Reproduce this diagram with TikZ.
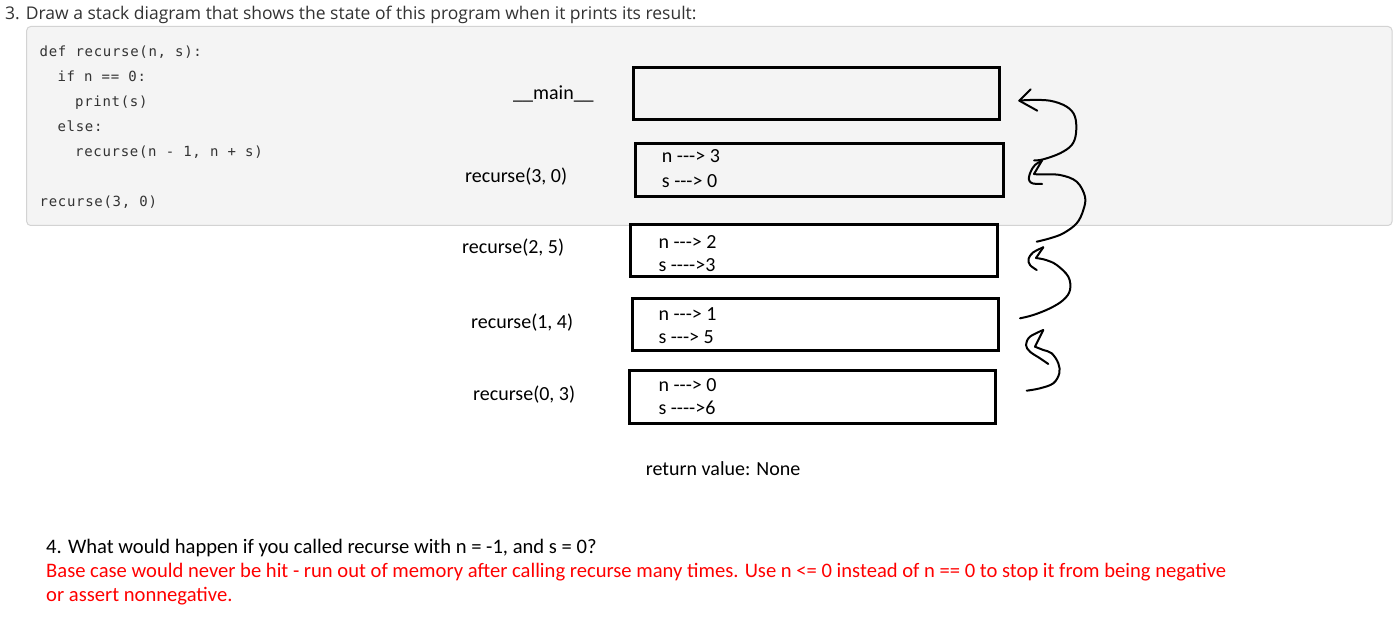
\documentclass[tikz,border=0pt]{standalone}
\usepackage{fontspec}
\newfontfamily\calfont{Carlito}
\newfontfamily\headfont{Open Sans}
\newfontfamily\codefont[LetterSpace=5]{DejaVu Sans Mono}
\definecolor{codebg}{HTML}{F4F4F4}
\definecolor{codeborder}{HTML}{D3D3D3}
\definecolor{darktext}{HTML}{333333}
\definecolor{answerred}{HTML}{FF0000}
\tikzset{
  txt/.style={anchor=base west, inner sep=0pt, font=\calfont\fontsize{20}{24}\selectfont, text=black},
  qtxt/.style={txt, font=\calfont\fontsize{20.6}{24}\selectfont},
  headtxt/.style={anchor=base west, inner sep=0pt, font=\headfont\fontsize{17.5}{21}\selectfont, text=darktext},
  codetxt/.style={anchor=base west, inner sep=0pt, font=\codefont\fontsize{14}{17}\selectfont, text=darktext},
  frame/.style={draw=black, line width=3pt, inner sep=0pt, minimum width=366pt, minimum height=52pt},
  hand/.style={draw=black, line width=2pt, line cap=round, line join=round},
}
\begin{document}
\begin{tikzpicture}[x=1pt, y=-1pt]
\useasboundingbox (0,0) rectangle (1399,620);
\fill[white] (0,0) rectangle (1399,620);

% heading
\node[headtxt] (head) at (5,20) {3. Draw a stack diagram that shows the state of this program when it prints its result:};

% code box
\draw[codeborder, fill=codebg, rounded corners=4pt, line width=1pt] (26.7,26.5) rectangle (1392,225.5);
\node[codetxt] (c1) at (39.5,57) {def recurse(n, s):};
\node[codetxt] (c2) at (57.3,82) {if n == 0:};
\node[codetxt] (c3) at (75,107) {print(s)};
\node[codetxt] (c4) at (57.3,132) {else:};
\node[codetxt] (c5) at (75,157) {recurse(n - 1, n + s)};
\node[codetxt] (c6) at (39.5,207) {recurse(3, 0)};

% frame labels
\node[txt] (lmain) at (513,100) {\_\_main\_\_};
\node[txt] (l1) at (465,183) {recurse(3, 0)};
\node[txt] (l2) at (462,253.5) {recurse(2, 5)};
\node[txt] (l3) at (471,328.5) {recurse(1, 4)};
\node[txt] (l4) at (473,400) {recurse(0, 3)};

% frames
\node[frame] (fmain) at (816.5,93.5) {};
\node[frame, minimum width=368pt, minimum height=53pt] (f1) at (819.5,170) {};
\node[frame, minimum width=367pt] (f2) at (814,250.5) {};
\node[frame] (f3) at (815.5,324.5) {};
\node[frame, minimum height=53pt] (f4) at (812.5,397) {};

% frame contents
\node[txt] (n1) at (661.7,162.7) {n ---> 3};
\node[txt] (s1) at (661.7,187.3) {s ---> 0};
\node[txt] (n2) at (658.3,248.3) {n ---> 2};
\node[txt] (s2) at (658.3,271.7) {s ---->3};
\node[txt] (n3) at (658.3,320) {n ---> 1};
\node[txt] (s3) at (658.3,343.3) {s ---> 5};
\node[txt] (n4) at (658.3,391) {n ---> 0};
\node[txt] (s4) at (658.3,414.3) {s ---->6};

\node[txt] (ret) at (645.7,475) {return value: None};

% hand-drawn return arrows
\draw[hand] (1030.7,89.3) -- (1019.3,100.7) -- (1037.3,110.7);
\draw[hand] plot[smooth, tension=0.6] coordinates {(1019.3,100.7) (1030,100) (1050,100.7) (1066.7,106.7) (1075,116.7) (1076,133.3) (1071.7,145) (1060,153.3) (1043.3,159.3) (1034,160.5)};

\draw[hand] plot[smooth, tension=0.6] coordinates {(1042,160.5) (1035,165) (1031,171) (1029,177) (1029.5,181) (1033,183.5) (1042,184)};
\draw[hand] (1042,160.5) -- (1034,174);
\draw[hand] plot[smooth, tension=0.6] coordinates {(1034,174) (1040,174.5) (1060,175) (1076.7,181.7) (1085,196.7) (1083.3,210) (1076.7,223.3) (1063.3,233.3) (1050,238.3) (1036.7,241.7)};

\draw[hand] plot[smooth, tension=0.6] coordinates {(1043.3,247.3) (1033,252.5) (1028.5,259) (1030,265) (1036.7,270)};
\draw[hand] (1043.3,247.3) -- (1036,258);
\draw[hand] plot[smooth, tension=0.6] coordinates {(1036,258) (1046,260) (1056.7,265) (1068.3,276.7) (1070,290) (1063.3,300) (1050,308.3) (1033.3,315) (1020,318.3)};

\draw[hand] plot[smooth, tension=0.6] coordinates {(1043.3,330) (1030,336.7) (1026,345) (1030,351.7) (1040,358.3) (1048.3,364)};
\draw[hand] (1043.3,330) -- (1035,346.7);
\draw[hand] plot[smooth, tension=0.6] coordinates {(1035,346.7) (1043.3,350) (1051.7,353.3) (1058.3,363.3) (1059.3,373.3) (1053.3,383.3) (1040,388.3) (1026.7,390.7)};

% question 4
\node[qtxt] (q4) at (46,553) {4. What would happen if you called recurse with n = -1, and s = 0?};
\node[qtxt, text=answerred] (a1) at (46,577) {Base case would never be hit - run out of memory after calling recurse many times. Use n <= 0 instead of n == 0 to stop it from being negative};
\node[qtxt, text=answerred] (a2) at (46,601) {or assert nonnegative.};
\end{tikzpicture}
\end{document}
